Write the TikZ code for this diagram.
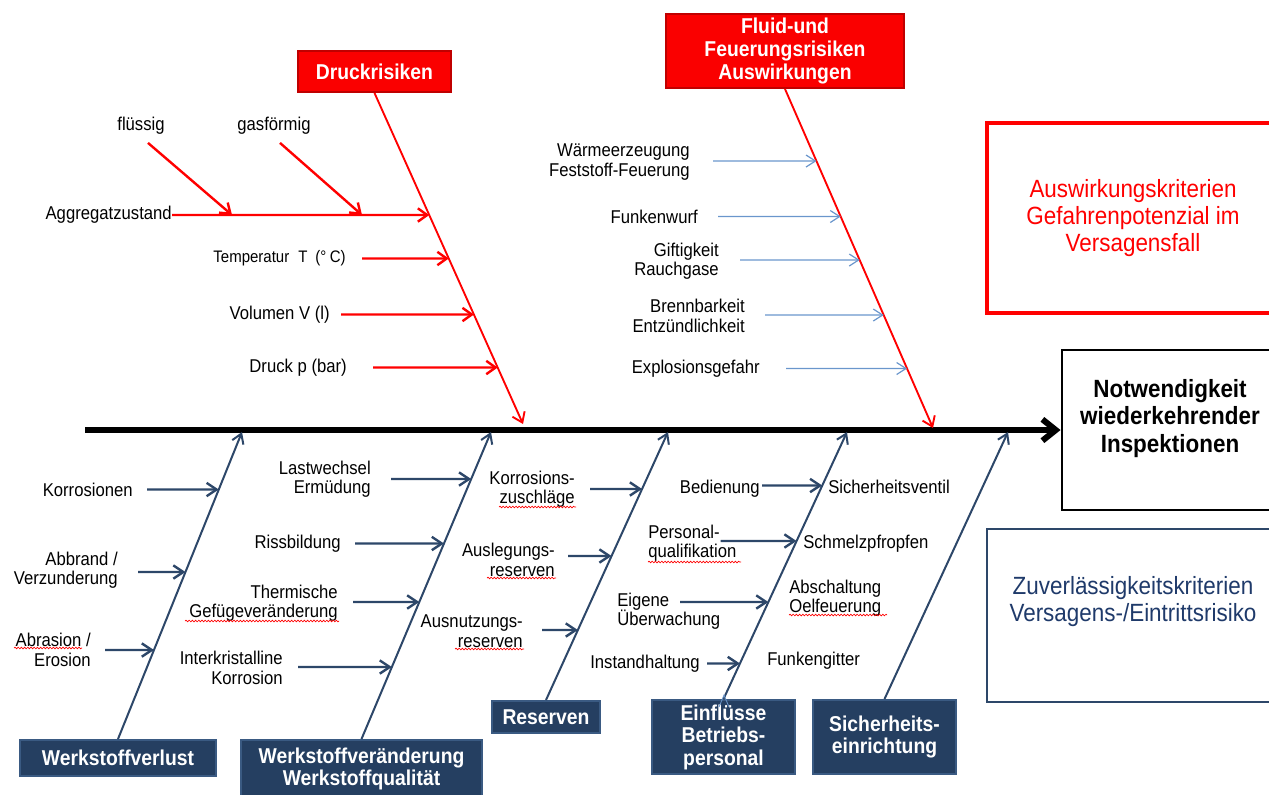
\documentclass[tikz,border=0pt]{standalone}
\usepackage{fontspec}
\setmainfont{Liberation Sans}[FakeStretch=0.9]
\usetikzlibrary{arrows.meta,calc,decorations.pathmorphing}
\definecolor{redfill}{HTML}{FA0000}
\definecolor{redborder}{HTML}{C00000}
\definecolor{navyfill}{HTML}{253F61}
\definecolor{navyborder}{HTML}{3A5A82}
\definecolor{navyline}{HTML}{2D4769}
\definecolor{navytext}{HTML}{1F3A6A}
\definecolor{lblue}{HTML}{6A96CC}
\newcommand\fsreg{\fontsize{13.9pt}{14.6pt}\selectfont}
\newcommand\fstemp{\fontsize{12.5pt}{13pt}\selectfont}
\newcommand\fsbox{\fontsize{16.1pt}{16.9pt}\selectfont\bfseries}
\newcommand\fsbig{\fontsize{18.7pt}{20.4pt}\selectfont}
\newcommand\harr[4]{%
  \path #2 coordinate (hs) ++(10,0) coordinate (hs2);
  \draw[#1] (hs) -- (intersection of #3--#4 and hs--hs2);}
\begin{document}
\begin{tikzpicture}[x=0.75pt,y=-0.75pt,
  lbl/.style={inner sep=0pt, font=\fsreg},
  rl/.style={lbl, anchor=east, align=right},
  ll/.style={lbl, anchor=west, align=left},
  redbox/.style={draw=redborder, fill=redfill, line width=1.5pt, text=white, font=\fsbox, align=center, inner sep=0pt},
  navybox/.style={draw=navyborder, fill=navyfill, line width=1.5pt, text=white, font=\fsbox, align=center, inner sep=0pt},
  redbone/.style={draw=red, line width=1.4pt, -{Straight Barb[length=7pt,width=10pt]}},
  redarr/.style={draw=red, line width=1.8pt, -{Straight Barb[length=7pt,width=10pt]}},
  bluearr/.style={draw=lblue, line width=0.9pt, -{Straight Barb[length=7pt,width=9pt]}},
  navybone/.style={draw=navyline, line width=1.5pt, -{Straight Barb[length=7pt,width=9pt]}},
  navyarr/.style={draw=navyline, line width=1.8pt, -{Straight Barb[length=7.5pt,width=10pt]}},
  squig/.style={draw=red, line width=0.5pt, decorate, decoration={snake, amplitude=0.6pt, segment length=2.4pt}}]
\useasboundingbox (0,0) rectangle (1269,794);

% --- right-hand boxes ---
\node[draw, line width=2.2pt, minimum width=220*0.75pt, minimum height=160*0.75pt, inner sep=0pt] (notbox) at (1172,430) {};
\node[font=\fsbig\bfseries, align=center, inner sep=0pt] (nottext) at (1170,418.5) {Notwendigkeit\\wiederkehrender\\Inspektionen};
\node[draw=red, line width=2.5pt, minimum width=292*0.75pt, minimum height=190*0.75pt, text=red, font=\fsbig, align=center, inner sep=0pt] (ausw) at (1133,218) {Auswirkungskriterien\\Gefahrenpotenzial im\\Versagensfall};
\node[draw=navyline, line width=1.8pt, minimum width=292*0.75pt, minimum height=173*0.75pt, inner sep=0pt] (zubox) at (1133,615.5) {};
\node[text=navytext, font=\fsbig, align=center, inner sep=0pt] (zutext) at (1133,601.5) {Zuverlässigkeitskriterien\\Versagens-/Eintrittsrisiko};

% --- spine ---
\coordinate (sp0) at (85,430);
\draw[line width=4.5pt, -{Straight Barb[length=10pt,width=16pt]}] (sp0) -- (notbox.west);

% --- top category boxes ---
\node[redbox, minimum width=153*0.75pt, minimum height=41*0.75pt] (druck) at (374.5,71.5) {Druckrisiken};
\node[redbox, minimum width=238*0.75pt, minimum height=74*0.75pt] (fluid) at (785,51) {Fluid-und\\Feuerungsrisiken\\Auswirkungen};
\coordinate (dtip) at (523,424);
\coordinate (ftip) at (933,428);
\draw[redbone] (druck.south) -- (dtip);
\draw[redbone] (fluid.south) -- (ftip);

% --- Druckrisiken causes ---
\node[lbl] (fl) at (141,126) {flüssig};
\node[lbl] (gas) at (274,126) {gasförmig};
\node[rl] (aggr) at (172,215) {Aggregatzustand};
\node[rl, font=\fstemp] (temp) at (346,258.5) {Temperatur\hspace{6.75pt}T\hspace{6pt}(°\hspace{2.6pt}C)};
\node[rl] (vol) at (330,314.5) {Volumen V (l)};
\node[rl] (dp) at (347,367.5) {Druck p (bar)};
\harr{redarr}{(aggr.east)}{druck.south}{dtip}
\harr{redarr}{($(temp.east)+(16,0)$)}{druck.south}{dtip}
\harr{redarr}{($(vol.east)+(11,0)$)}{druck.south}{dtip}
\harr{redarr}{($(dp.east)+(26,0)$)}{druck.south}{dtip}
\draw[redarr] ($(fl.south)+(7,8)$) -- ($(aggr.east)+(60,0)$);
\draw[redarr] ($(gas.south)+(6,8)$) -- ($(aggr.east)+(190,0)$);

% --- Fluid causes ---
\node[rl] (waerme) at (690,162) {Wärmeerzeugung\\Feststoff-Feuerung};
\node[rl] (funk) at (698,216.5) {Funkenwurf};
\node[rl] (gift) at (719,261) {Giftigkeit\\Rauchgase};
\node[rl] (brenn) at (745,316) {Brennbarkeit\\Entzündlichkeit};
\node[rl] (expl) at (760,368.5) {Explosionsgefahr};
\harr{bluearr}{($(waerme.east)+(23,-1)$)}{fluid.south}{ftip}
\harr{bluearr}{($(funk.east)+(20,0)$)}{fluid.south}{ftip}
\harr{bluearr}{($(gift.east)+(21,-1)$)}{fluid.south}{ftip}
\harr{bluearr}{($(brenn.east)+(20,-1)$)}{fluid.south}{ftip}
\harr{bluearr}{($(expl.east)+(26,0)$)}{fluid.south}{ftip}

% --- bottom category boxes ---
\node[navybox, minimum width=196*0.75pt, minimum height=36*0.75pt] (wv) at (118,758) {Werkstoffverlust};
\node[navybox, minimum width=241*0.75pt, minimum height=58*0.75pt] (wq) at (361.5,769) {Werkstoffveränderung\\Werkstoffqualität};
\node[navybox, minimum width=108*0.75pt, minimum height=32*0.75pt] (res) at (546,717) {Reserven};
\node[navybox, minimum width=143*0.75pt, minimum height=74*0.75pt] (ein) at (723.5,737) {Einflüsse\\Betriebs-\\personal};
\node[navybox, minimum width=143*0.75pt, minimum height=74*0.75pt] (sich) at (884.5,737) {Sicherheits-\\einrichtung};
\coordinate (t1) at (242,432);
\coordinate (t2) at (491,432);
\coordinate (t3) at (668,432);
\coordinate (t4) at (847,432);
\coordinate (t5) at (1008,432);
\draw[navybone] (wv.north) -- (t1);
\draw[navybone] (wq.north) -- (t2);
\draw[navybone] (res.north) -- (t3);
\draw[navybone] (ein.north) -- (t4);
\draw[navybone] (sich.north) -- (t5);
\draw[lblue, line width=0.6pt] (719,707) -- (724,695) -- (729,707);

% --- Werkstoffverlust ---
\node[rl] (korr) at (133,489.5) {Korrosionen};
\node[rl] (abbr) at (118,570) {Abbrand /\\Verzunderung};
\node[rl] (abras) at (91,650) {Abrasion /\\Erosion};
\harr{navyarr}{($(korr.east)+(14,0)$)}{wv.north}{t1}
\harr{navyarr}{($(abbr.east)+(20,2)$)}{wv.north}{t1}
\harr{navyarr}{($(abras.east)+(14,0)$)}{wv.north}{t1}

% --- Werkstoffveränderung ---
\node[rl] (last) at (371,479) {Lastwechsel\\Ermüdung};
\node[rl] (riss) at (341,543.5) {Rissbildung};
\node[rl] (therm) at (338,603) {Thermische\\Gefügeveränderung};
\node[rl] (inter) at (283,668) {Interkristalline\\Korrosion};
\harr{navyarr}{($(last.east)+(20,0)$)}{wq.north}{t2}
\harr{navyarr}{($(riss.east)+(14,0)$)}{wq.north}{t2}
\harr{navyarr}{($(therm.east)+(15,-1)$)}{wq.north}{t2}
\harr{navyarr}{($(inter.east)+(15,-1)$)}{wq.north}{t2}

% --- Reserven ---
\node[rl] (korrz) at (575,489) {Korrosions-\\zuschläge};
\node[rl] (ausl) at (555,560) {Auslegungs-\\reserven};
\node[rl] (ausn) at (523,631) {Ausnutzungs-\\reserven};
\harr{navyarr}{($(korrz.east)+(15,0)$)}{res.north}{t3}
\harr{navyarr}{($(ausl.east)+(13,-4)$)}{res.north}{t3}
\harr{navyarr}{($(ausn.east)+(19,-1)$)}{res.north}{t3}

% --- Einflüsse Betriebspersonal ---
\node[rl] (bed) at (760,488.5) {Bedienung};
\node[ll] (pers) at (648,543) {Personal-\\qualifikation};
\node[ll] (eig) at (617,611) {Eigene\\Überwachung};
\node[rl] (inst) at (700,663.5) {Instandhaltung};
\harr{navyarr}{($(bed.east)+(2,-3)$)}{ein.north}{t4}
\harr{navyarr}{($(pers.east)+(-16,-2)$)}{ein.north}{t4}
\harr{navyarr}{($(eig.west)+(63,-9)$)}{ein.north}{t4}
\harr{navyarr}{($(inst.east)+(7,0)$)}{ein.north}{t4}

% --- Sicherheitseinrichtung ---
\node[ll] (sv) at (828,487) {Sicherheitsventil};
\node[ll] (schm) at (803,543.5) {Schmelzpfropfen};
\node[ll] (absch) at (789,598) {Abschaltung\\Oelfeuerung};
\node[ll] (fg) at (767,661) {Funkengitter};

% --- spell-check underlines ---
\draw[squig] (499,507) -- (576,507);
\draw[squig] (487,578) -- (556,578);
\draw[squig] (455,649) -- (524,649);
\draw[squig] (185,621) -- (339,621);
\draw[squig] (14,648) -- (82,648);
\draw[squig] (648,562) -- (741,562);
\draw[squig] (789,615) -- (887,615);
\end{tikzpicture}
\end{document}
